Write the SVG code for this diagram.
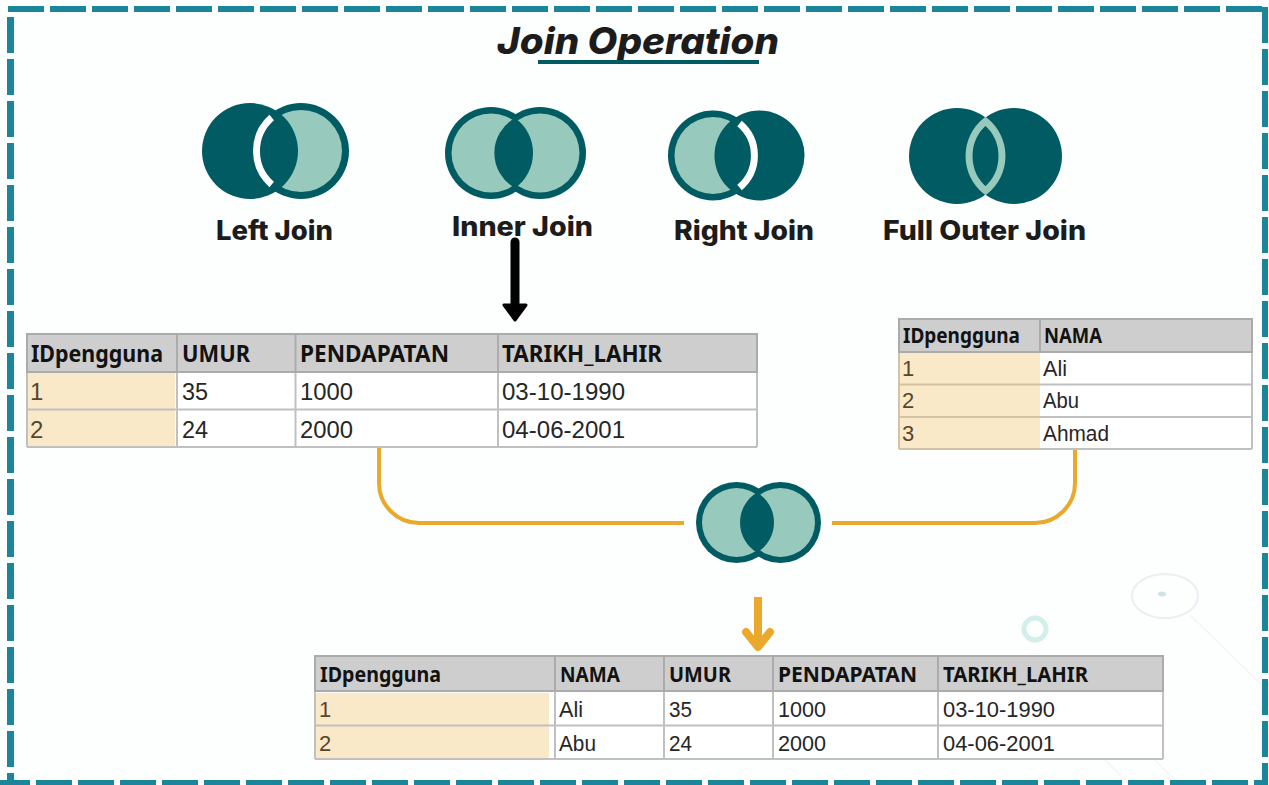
<svg xmlns="http://www.w3.org/2000/svg" width="1269" height="785" viewBox="0 0 1269 785">
<style>
.dk{fill:#015b63}.lt{fill:#97c9bc}
.lab{font-family:"Inter","Noto Sans",sans-serif;font-weight:800;font-size:27px;fill:#1c1c1c}
.hd{font-family:"Noto Sans","Open Sans",sans-serif;font-weight:700;fill:#121212}
.td{font-family:"Liberation Sans",Arial,sans-serif;fill:#262626}
.id{font-family:"Liberation Sans",Arial,sans-serif;fill:#54472f}
.h1{font-size:23px}.d1{font-size:24px}.h2{font-size:21px}.d2{font-size:22px}
.hfill{fill:#cecece}.peach{fill:#fae9c9}
.grid{stroke:#c0c0c0;stroke-width:2;fill:none}
.hgrid{stroke:#ababab;stroke-width:2;fill:none}
.border{stroke:#1b8599;fill:none;stroke-dasharray:36 6}
.orange{stroke:#eaa92c;fill:none}
</style>
<rect width="1269" height="785" fill="#fdfefe"/>
<g id="background">
<ellipse cx="1165" cy="596" rx="33" ry="22" fill="none" stroke="#e8f0f3" stroke-width="2"/>
<ellipse cx="1162" cy="594" rx="4" ry="2.5" fill="#cfe3e4"/>
<circle cx="1035" cy="629" r="11" fill="none" stroke="#d3efec" stroke-width="5"/>
<path d="M1190 615L1262 685M1105 760L1130 785M1155 760L1180 785" stroke="#f3f5f6" stroke-width="1.5" fill="none"/>
</g>
<g id="frame">
<path class="border" stroke-width="6" d="M8 9H1262"/>
<path class="border" stroke-width="7" d="M10.5 17V785"/>
<path class="border" stroke-width="6" d="M1265 7V785"/>
<path class="border" stroke-width="6" d="M-6 783H1262"/>
</g>
<g id="title">
<text x="497" y="54" font-family="Inter,'Noto Sans',sans-serif" font-weight="800" font-style="italic" font-size="37" fill="#1c1c1c" textLength="282" lengthAdjust="spacingAndGlyphs">Join Operation</text>
<rect x="538" y="60" width="221" height="4" class="dk"/>
</g>
<g id="left-join">
<circle cx="301" cy="151" r="48" class="dk"/>
<circle cx="301" cy="151" r="41" class="lt"/>
<circle cx="250" cy="151" r="48" class="dk"/>
<path d="M271.7 117.5A44.5 44.5 0 0 0 271.7 184.5" fill="none" stroke="#fff" stroke-width="7"/>
<text class="lab" x="216" y="240" textLength="117" lengthAdjust="spacingAndGlyphs">Left Join</text>
</g>
<g id="inner-join">
<circle cx="491" cy="153" r="46" class="dk"/>
<circle cx="540" cy="153" r="46" class="dk"/>
<circle cx="491" cy="153" r="39.5" class="lt"/>
<circle cx="540" cy="153" r="39.5" class="lt"/>
<path d="M515 118A40 40 0 0 0 515 188A43 43 0 0 0 515 118Z" class="dk"/>
<text class="lab" x="452" y="236" textLength="141" lengthAdjust="spacingAndGlyphs">Inner Join</text>
</g>
<g id="right-join">
<circle cx="713" cy="155.5" r="45" class="dk"/>
<circle cx="713" cy="155.5" r="38.5" class="lt"/>
<circle cx="759.5" cy="155.5" r="45" class="dk"/>
<path d="M739.5 123.5A41.8 41.8 0 0 1 739.5 187.5" fill="none" stroke="#fff" stroke-width="7"/>
<text class="lab" x="674" y="240" textLength="140" lengthAdjust="spacingAndGlyphs">Right Join</text>
</g>
<g id="full-outer-join">
<circle cx="957" cy="156" r="48" class="dk"/>
<circle cx="1014" cy="156" r="48" class="dk"/>
<path d="M985.5 121.2A45 45 0 0 1 985.5 190.8A45 45 0 0 1 985.5 121.2Z" fill="none" stroke="#97c9bc" stroke-width="7"/>
<text class="lab" x="883" y="240" textLength="203" lengthAdjust="spacingAndGlyphs">Full Outer Join</text>
</g>
<g id="connectors">
<path class="orange" stroke-width="4" d="M379 447V483A40 40 0 0 0 419 523H684"/>
<path class="orange" stroke-width="4" d="M1075 449V483A40 40 0 0 1 1035 523H832"/>
<path class="orange" stroke-width="8" d="M758 597V645"/>
<path class="orange" stroke-width="8" stroke-linecap="round" stroke-linejoin="round" d="M746 632L758 647L770 632"/>
<path d="M515 242V306" stroke="#000" stroke-width="9" stroke-linecap="round" fill="none"/>
<path d="M504 305H526L515 320Z" fill="#000" stroke="#000" stroke-width="3" stroke-linejoin="round"/>
</g>
<g id="table-left">
<rect x="27" y="334" width="730" height="113" fill="#fff"/>
<rect x="27" y="334" width="730" height="38" class="hfill"/>
<rect x="28" y="372" width="147" height="74" class="peach"/>
<path class="grid" d="M27 409.500H757M27 447H757M757 372V447M295.500 372V447M498 372V447M177 372V447M27 372V447"/>
<path class="hgrid" d="M27 334H757V372H27ZM177 334V372M295.500 334V372M498 334V372"/>
<text class="hd h1" x="31" y="362" textLength="132" lengthAdjust="spacingAndGlyphs">IDpengguna</text>
<text class="hd h1" x="182" y="362" textLength="68" lengthAdjust="spacingAndGlyphs">UMUR</text>
<text class="hd h1" x="300" y="362" textLength="149" lengthAdjust="spacingAndGlyphs">PENDAPATAN</text>
<text class="hd h1" x="502" y="362" textLength="160" lengthAdjust="spacingAndGlyphs">TARIKH_LAHIR</text>
<text class="id d1" x="30" y="400">1</text>
<text class="td d1" x="182" y="400" textLength="26" lengthAdjust="spacingAndGlyphs">35</text>
<text class="td d1" x="300" y="400" textLength="53" lengthAdjust="spacingAndGlyphs">1000</text>
<text class="td d1" x="502" y="400" textLength="123" lengthAdjust="spacingAndGlyphs">03-10-1990</text>
<text class="id d1" x="30" y="438">2</text>
<text class="td d1" x="182" y="438" textLength="26" lengthAdjust="spacingAndGlyphs">24</text>
<text class="td d1" x="300" y="438" textLength="53" lengthAdjust="spacingAndGlyphs">2000</text>
<text class="td d1" x="502" y="438" textLength="123" lengthAdjust="spacingAndGlyphs">04-06-2001</text>
</g>
<g id="table-right">
<rect x="899" y="319" width="353" height="130" fill="#fff"/>
<rect x="899" y="319" width="353" height="33" class="hfill"/>
<rect x="899" y="352" width="141" height="97" class="peach"/>
<path class="grid" d="M1040 384.500H1252M1040 417H1252M1040 449H1252M1252 352V449"/>
<path stroke="#d3c3a3" stroke-width="2" fill="none" d="M899 384.500H1040M899 417H1040M899 449H1040M899 352V449"/>
<path class="hgrid" d="M899 319H1252V352H899ZM1040 319V352"/>
<text class="hd h2" x="903" y="343" textLength="117" lengthAdjust="spacingAndGlyphs">IDpengguna</text>
<text class="hd h2" x="1044" y="343" textLength="58" lengthAdjust="spacingAndGlyphs">NAMA</text>
<text class="id d2" x="902" y="376">1</text>
<text class="td d2" x="1043" y="376" textLength="24" lengthAdjust="spacingAndGlyphs">Ali</text>
<text class="id d2" x="902" y="408">2</text>
<text class="td d2" x="1043" y="408" textLength="36" lengthAdjust="spacingAndGlyphs">Abu</text>
<text class="id d2" x="902" y="441">3</text>
<text class="td d2" x="1043" y="441" textLength="66" lengthAdjust="spacingAndGlyphs">Ahmad</text>
</g>
<g id="table-result">
<rect x="315" y="656" width="848" height="103" fill="#fff"/>
<rect x="315" y="656" width="848" height="35" class="hfill"/>
<rect x="316" y="693" width="233" height="66" class="peach"/>
<path class="grid" d="M315 725.500H1163M315 759H1163M1163 691V759M555 691V759M664 691V759M773 691V759M938 691V759M315 691V759"/>
<path class="hgrid" d="M315 656H1163V691H315ZM555 656V691M664 656V691M773 656V691M938 656V691"/>
<text class="hd h2" x="320" y="682" textLength="121" lengthAdjust="spacingAndGlyphs">IDpengguna</text>
<text class="hd h2" x="560" y="682" textLength="60" lengthAdjust="spacingAndGlyphs">NAMA</text>
<text class="hd h2" x="669" y="682" textLength="62" lengthAdjust="spacingAndGlyphs">UMUR</text>
<text class="hd h2" x="778" y="682" textLength="139" lengthAdjust="spacingAndGlyphs">PENDAPATAN</text>
<text class="hd h2" x="943" y="682" textLength="145" lengthAdjust="spacingAndGlyphs">TARIKH_LAHIR</text>
<text class="id d2" x="319" y="717">1</text>
<text class="td d2" x="559" y="717" textLength="24" lengthAdjust="spacingAndGlyphs">Ali</text>
<text class="td d2" x="669" y="717" textLength="23" lengthAdjust="spacingAndGlyphs">35</text>
<text class="td d2" x="778" y="717" textLength="48" lengthAdjust="spacingAndGlyphs">1000</text>
<text class="td d2" x="943" y="717" textLength="112" lengthAdjust="spacingAndGlyphs">03-10-1990</text>
<text class="id d2" x="319" y="751">2</text>
<text class="td d2" x="559" y="751" textLength="37" lengthAdjust="spacingAndGlyphs">Abu</text>
<text class="td d2" x="669" y="751" textLength="23" lengthAdjust="spacingAndGlyphs">24</text>
<text class="td d2" x="778" y="751" textLength="48" lengthAdjust="spacingAndGlyphs">2000</text>
<text class="td d2" x="943" y="751" textLength="112" lengthAdjust="spacingAndGlyphs">04-06-2001</text>
</g>
<g id="join-symbol">
<circle cx="736.500" cy="522.500" r="40.500" class="dk"/>
<circle cx="780.500" cy="522.500" r="40.500" class="dk"/>
<circle cx="736.500" cy="522.500" r="34.500" class="lt"/>
<circle cx="780.500" cy="522.500" r="34.500" class="lt"/>
<path d="M757 492.500A35 35 0 0 0 757 552.500A35 35 0 0 0 757 492.500Z" class="dk"/>
</g>
</svg>
